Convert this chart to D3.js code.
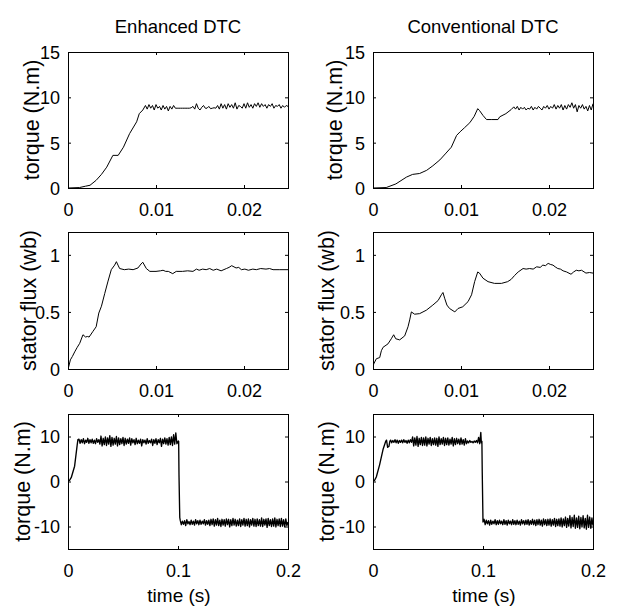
<!DOCTYPE html>
<html>
<head>
<meta charset="utf-8">
<script src="https://cdn.jsdelivr.net/npm/d3@7/dist/d3.min.js"></script>
<style>
  html, body { margin: 0; padding: 0; background: #fff; }
  text { font-family: "Liberation Sans", Arial, Helvetica, sans-serif; fill: #000; }
</style>
</head>
<body>
<svg id="fig" width="619" height="608"></svg>
<script>
// ---------------- labels and ticks ----------------
const columnTitles = ["Enhanced DTC", "Conventional DTC"];
const rowYLabels = ["torque (N.m)", "stator flux (wb)", "torque (N.m)"];
const timeLabel = "time (s)";

const startupXTicks = [0, 0.01, 0.02];
const stepXTicks = [0, 0.1, 0.2];
const torqueYTicks = [0, 5, 10, 15];
const fluxYTicks = [0, 0.5, 1];
const stepYTicks = [-10, 0, 10];

// ---------------- start-up torque (time in ms, torque in N.m) ----------------
const enhTorqueRise = [[0,0],[1.3,0.05],[2.0,0.2],[2.5,0.3],[3.2,0.85],[3.8,1.5],[4.4,2.3],[5.1,3.6],
  [5.7,3.6],[6.3,4.5],[7.0,6.0],[7.8,7.3],[8.1,8.2],[8.5,8.6]];
// ripple readings every 0.2 ms from 8.8 ms
const enhTorqueRipple = [9.1,8.7,9.2,8.8,9.1,8.6,9.2,8.8,9.0,8.6,9.1,8.7,9.0,8.5,9.0,8.7,9.1,8.8,8.8,8.8,
  8.8,8.8,8.8,8.8,8.8,8.8,8.85,9.0,8.7,9.3,8.8,8.6,8.9,9.1,8.8,8.8,9.0,8.75,8.8,8.85,
  8.8,9.1,8.7,9.3,8.8,9.2,8.7,9.3,8.9,9.2,8.8,9.4,8.7,9.1,9.0,8.8,9.3,8.8,9.4,8.9,
  9.2,8.8,9.3,9.0,9.4,8.9,9.3,9.0,9.2,8.8,9.2,9.0,9.3,8.8,9.1,9.0,9.2,8.8,9.1,8.9,
  9.1,9.0];

const convTorqueRise = [[0,0],[1.5,0.05],[2.6,0.45],[3.8,1.2],[4.5,1.5],[5.3,1.6],[6.1,1.95],[6.8,2.45],
  [7.6,3.1],[8.3,3.85],[8.9,4.5],[9.5,5.8],[9.9,6.2],[10.4,6.65],[11.0,7.2],[11.5,7.9],[11.9,8.75],
  [12.1,8.55],[12.5,8.0],[12.9,7.55],[13.5,7.55],[14.2,7.55],[14.4,7.85],[15.1,8.2],[15.7,8.65],[16.0,8.95]];
// ripple readings every 0.2 ms from 16.2 ms
const convTorqueRipple = [8.7,9.0,8.6,8.9,8.7,8.9,8.6,8.8,8.7,9.0,8.6,8.9,8.7,9.0,8.8,8.6,9.0,8.8,9.1,8.7,
  9.0,8.8,9.2,8.7,9.1,8.8,9.2,8.6,9.1,8.7,9.2,8.9,9.4,8.8,9.2,8.4,9.1,8.8,9.2,8.7,
  9.0,8.5,9.1,8.6,9.3];

// ---------------- start-up stator flux (time in ms, flux in Wb) ----------------
const enhFlux = [[0,0],[0.08,0.02],[0.27,0.08],[0.5,0.11],[0.76,0.15],[1.05,0.19],[1.33,0.225],[1.7,0.30],
  [2.0,0.28],[2.2,0.285],[2.4,0.28],[2.84,0.33],[3.2,0.37],[3.5,0.49],[3.8,0.55],[4.17,0.66],
  [4.55,0.77],[4.92,0.87],[5.3,0.91],[5.5,0.94],[5.68,0.91],[5.87,0.88],[6.4,0.87],[6.9,0.875],
  [7.4,0.87],[7.95,0.885],[8.3,0.92],[8.5,0.935],[8.9,0.88],[9.3,0.855],[10.0,0.855],[10.5,0.86],
  [10.8,0.865],[11.1,0.855],[11.4,0.855],[11.9,0.835],[12.3,0.855],[13.0,0.855],[13.6,0.86],[14.2,0.855],
  [14.6,0.875],[14.9,0.865],[15.3,0.875],[15.7,0.87],[16.1,0.88],[16.5,0.865],[16.9,0.875],[17.4,0.86],
  [18.0,0.88],[18.3,0.89],[18.6,0.905],[19.1,0.885],[19.4,0.89],[19.7,0.87],[20.1,0.875],[20.5,0.865],
  [21.0,0.875],[21.4,0.87],[21.9,0.88],[22.5,0.875],[22.9,0.88],[23.3,0.87],[24.0,0.87],[25.0,0.87]];

const convFlux = [[0,0.02],[0.08,0.044],[0.38,0.09],[0.76,0.10],[0.95,0.16],[1.14,0.19],[1.7,0.22],
  [2.08,0.265],[2.35,0.30],[2.58,0.265],[3.03,0.255],[3.6,0.29],[3.98,0.37],[4.17,0.43],[4.36,0.50],
  [4.73,0.48],[5.3,0.485],[6.06,0.515],[6.8,0.56],[7.4,0.60],[7.77,0.65],[7.95,0.67],[8.14,0.62],
  [8.4,0.56],[8.7,0.53],[9.3,0.50],[9.66,0.53],[10.2,0.545],[10.8,0.59],[11.2,0.65],[11.55,0.765],
  [11.9,0.85],[12.1,0.84],[12.5,0.795],[13.07,0.765],[13.8,0.75],[14.6,0.75],[15.3,0.765],[15.7,0.785],
  [16.1,0.82],[16.5,0.85],[17.05,0.88],[17.4,0.875],[17.8,0.88],[18.2,0.875],[18.6,0.895],[19.0,0.89],
  [19.3,0.91],[19.6,0.905],[19.9,0.925],[20.2,0.915],[20.45,0.91],[20.7,0.895],[21.0,0.88],[21.3,0.875],
  [21.6,0.86],[22.0,0.85],[22.5,0.83],[22.8,0.85],[23.1,0.865],[23.4,0.86],[23.7,0.865],[24.2,0.84],
  [24.6,0.845],[25.0,0.84]];

// ---------------- torque reversal (time in ms, torque in N.m) ----------------
const enhStepRise = [[0,0],[1.5,0.3],[3,0.9],[6,3.4],[8.2,7.8],[9,9.3]];
// readings every 1 ms from 10 ms to 99 ms
const enhStepPos = [9.4,8.5,9.3,8.6,9.5,8.4,9.2,8.7,9.6,8.5,
  9.3,8.6,9.4,8.5,9.2,8.4,9.5,8.7,9.3,8.3,
  10.1,7.9,9.6,8.2,9.9,8.0,9.7,8.3,10.2,7.8,
  9.8,8.1,9.6,8.3,10.0,7.9,9.7,8.2,9.5,8.4,
  9.8,8.0,9.6,8.3,9.4,8.5,9.7,8.1,9.5,8.6,
  9.3,8.2,9.6,8.4,9.2,8.5,9.4,7.9,9.3,8.6,
  9.2,8.3,9.5,8.5,9.1,8.6,9.4,8.0,9.3,8.5,
  9.5,8.2,9.3,8.6,9.6,7.8,9.4,8.4,9.7,8.3,
  9.5,8.1,9.8,8.2,9.9,8.0,10.4,8.3,10.8,8.4];
const enhStepFall = [[100.3,9.0],[100.6,8.9],[100.9,1.5],[101.6,-8.0]];
// readings every 1 ms from 102 ms to 199 ms
const enhStepNeg = [-8.6,-9.6,-8.8,-9.5,-8.7,-9.8,-8.5,-9.4,-8.9,-9.6,
  -8.6,-9.5,-8.8,-9.7,-8.5,-9.4,-8.7,-9.6,-8.6,-9.5,
  -8.8,-9.4,-8.5,-9.7,-8.7,-9.5,-8.6,-9.8,-8.4,-9.6,
  -8.3,-9.9,-8.5,-9.7,-8.2,-9.8,-8.6,-10.0,-8.4,-9.7,
  -8.5,-9.9,-8.3,-9.6,-8.4,-10.1,-8.5,-9.8,-8.2,-9.7,
  -8.4,-9.9,-8.6,-9.8,-8.3,-10.0,-8.5,-9.7,-8.2,-9.9,
  -8.4,-9.8,-8.3,-10.1,-8.5,-9.7,-8.2,-9.9,-8.4,-10.0,
  -8.3,-9.8,-8.5,-9.9,-8.1,-10.0,-8.4,-9.7,-8.3,-10.2,
  -8.2,-9.8,-8.5,-10.0,-8.3,-9.9,-8.1,-10.1,-8.4,-9.8,
  -8.3,-10.0,-8.2,-9.9,-8.5,-10.1,-8.3,-9.8];
const enhStepEnd = [[200,-9.0]];

const convStepRise = [[0,0],[1.5,0.3],[3,1.0],[6,3.7],[9.1,7.1],[11.5,8.9],[12.3,9.2],[13.3,7.6],[14.5,7.8],[15.3,8.9]];
// readings every 1 ms from 16 ms to 98 ms
const convStepPos = [9.2,8.6,9.1,8.7,9.3,8.6,9.2,8.5,9.1,8.7,
  9.2,8.6,9.3,8.7,9.1,8.5,9.2,8.6,9.3,8.7,
  9.9,7.9,9.7,8.1,10.0,7.8,9.6,8.2,9.8,8.0,
  9.7,8.1,9.9,7.9,9.6,8.3,9.8,8.0,9.5,8.2,
  9.7,8.1,9.6,7.8,9.9,8.2,9.5,8.3,9.8,8.0,
  9.6,8.2,9.7,8.1,9.4,8.3,9.8,7.9,9.5,8.2,
  9.6,8.4,9.4,8.2,9.7,8.3,9.3,8.1,9.5,8.4,
  9.0,8.6,9.1,8.7,8.9,8.6,9.0,8.7,9.1,8.6,
  9.8,8.4,10.9];
const convStepFall = [[98.5,8.6],[99.0,8.9],[99.3,2.3],[100.0,-9.0]];
// readings every 1 ms from 101 ms to 200 ms
const convStepNeg = [-8.4,-9.6,-8.6,-9.4,-8.7,-9.7,-8.6,-9.5,-8.8,-9.4,
  -8.5,-9.6,-8.7,-9.5,-8.6,-9.4,-8.8,-9.6,-8.5,-9.5,
  -8.7,-9.7,-8.6,-9.4,-8.8,-9.6,-8.5,-9.5,-8.7,-9.6,
  -8.6,-9.5,-8.8,-9.7,-8.5,-9.4,-8.7,-9.6,-8.6,-9.5,
  -8.5,-9.7,-8.7,-9.5,-8.4,-9.6,-8.6,-9.8,-8.5,-9.6,
  -8.4,-9.7,-8.6,-9.9,-8.3,-9.6,-8.5,-9.8,-8.4,-9.7,
  -8.3,-9.9,-8.5,-9.7,-8.2,-10.0,-8.4,-9.8,-8.3,-9.9,
  -8.1,-10.1,-8.3,-9.8,-7.9,-10.2,-8.2,-9.9,-7.6,-10.3,
  -8.0,-10.0,-7.5,-10.4,-8.1,-10.2,-7.7,-10.5,-8.0,-10.1,
  -7.6,-10.3,-8.2,-10.6,-7.5,-10.2,-7.9,-10.4,-8.1,-9.8];

// ---------------- helpers ----------------
const ms = pts => pts.map(([t, v]) => [t / 1000, v]);
const sampled = (startMs, stepMs, vals) => vals.map((v, i) => [(startMs + i * stepMs) / 1000, v]);

const traces = [
  [...ms(enhTorqueRise), ...sampled(8.8, 0.2, enhTorqueRipple)],
  [...ms(convTorqueRise), ...sampled(16.2, 0.2, convTorqueRipple)],
  ms(enhFlux),
  ms(convFlux),
  [...ms(enhStepRise), ...sampled(10, 1, enhStepPos), ...ms(enhStepFall), ...sampled(102, 1, enhStepNeg), ...ms(enhStepEnd)],
  [...ms(convStepRise), ...sampled(16, 1, convStepPos), ...ms(convStepFall), ...sampled(101, 1, convStepNeg)]
];

// ---------------- layout ----------------
const colLeft = [68, 373];
const plotW = 220;
const rowTop = [52, 232, 414];
const rowH = [136, 137, 135];
const rowSpec = [
  { xDomain: [0, 0.025], yDomain: [0, 15], xTicks: startupXTicks, yTicks: torqueYTicks, stroke: 1 },
  { xDomain: [0, 0.025], yDomain: [0, 1.2], xTicks: startupXTicks, yTicks: fluxYTicks, stroke: 1 },
  { xDomain: [0, 0.2], yDomain: [-15, 15], xTicks: stepXTicks, yTicks: stepYTicks, stroke: 1.35 }
];
// distance from the axis to the y-label baseline, per row and column
const yLabelGap = [[29.5, 31], [32, 39.5], [38, 39]];

const svg = d3.select("#fig");
const tickLen = 3;

rowSpec.forEach((spec, r) => {
  [0, 1].forEach(c => {
    const x0 = colLeft[c], y0 = rowTop[r], h = rowH[r];
    const x = d3.scaleLinear().domain(spec.xDomain).range([x0, x0 + plotW]);
    const y = d3.scaleLinear().domain(spec.yDomain).range([y0 + h, y0]);
    const g = svg.append("g");

    // signal trace
    const clipId = `clip-${r}-${c}`;
    g.append("clipPath").attr("id", clipId).append("rect")
      .attr("x", x0).attr("y", y0).attr("width", plotW).attr("height", h);
    g.append("path")
      .datum(traces[r * 2 + c])
      .attr("clip-path", `url(#${clipId})`)
      .attr("fill", "none")
      .attr("stroke", "#000")
      .attr("stroke-width", spec.stroke)
      .attr("stroke-linejoin", "round")
      .attr("d", d3.line().x(d => x(d[0])).y(d => y(d[1])));

    // boxed axes with inward ticks on every side
    const bottom = d3.axisBottom(x).tickValues(spec.xTicks).tickSizeInner(-tickLen).tickSizeOuter(0)
      .tickPadding(14).tickFormat(d => String(d));
    const top = d3.axisTop(x).tickValues(spec.xTicks).tickSizeInner(-tickLen).tickSizeOuter(0).tickFormat("");
    const left = d3.axisLeft(y).tickValues(spec.yTicks).tickSizeInner(-tickLen).tickSizeOuter(0)
      .tickPadding(8).tickFormat(d => String(d));
    const right = d3.axisRight(y).tickValues(spec.yTicks).tickSizeInner(-tickLen).tickSizeOuter(0).tickFormat("");

    const gb = g.append("g").attr("transform", `translate(0,${y0 + h})`).call(bottom);
    const gt = g.append("g").attr("transform", `translate(0,${y0})`).call(top);
    const gl = g.append("g").attr("transform", `translate(${x0},0)`).call(left);
    const gr = g.append("g").attr("transform", `translate(${x0 + plotW},0)`).call(right);

    [gb, gt, gl, gr].forEach(a => {
      a.selectAll(".domain").remove();
      a.selectAll(".tick line").attr("stroke", "#000");
    });
    gb.selectAll(".tick text").attr("font-size", "18px").attr("font-family", null)
      .attr("dy", null).attr("y", 27.5);
    gl.selectAll(".tick text").attr("font-size", "18px").attr("font-family", null).attr("dy", "0.36em");

    g.append("rect")
      .attr("x", x0 + 0.5).attr("y", y0 + 0.5)
      .attr("width", plotW).attr("height", h)
      .attr("fill", "none").attr("stroke", "#000").attr("stroke-width", 1);

    // y label
    g.append("text")
      .attr("transform", `translate(${x0 - yLabelGap[r][c]},${y0 + h / 2}) rotate(-90)`)
      .attr("text-anchor", "middle")
      .attr("font-size", "21.5px")
      .text(rowYLabels[r]);

    if (r === 0) {
      g.append("text")
        .attr("x", x0 + plotW / 2).attr("y", 33)
        .attr("text-anchor", "middle")
        .attr("font-size", "18.5px")
        .text(columnTitles[c]);
    }
    if (r === 2) {
      g.append("text")
        .attr("x", x0 + plotW / 2 + 1).attr("y", 602)
        .attr("text-anchor", "middle")
        .attr("font-size", "19px")
        .text(timeLabel);
    }
  });
});
</script>
</body>
</html>
